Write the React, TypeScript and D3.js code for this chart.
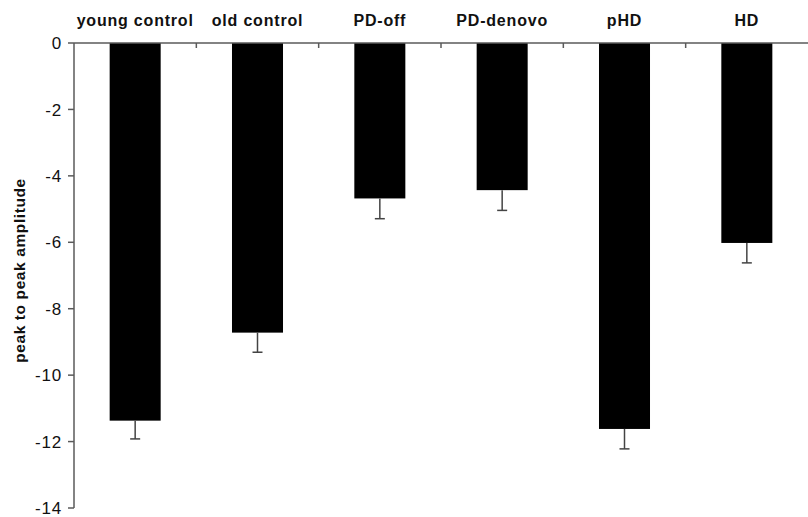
import React from "react";
import * as d3 from "d3";

const categories = ["young control", "old control", "PD-off", "PD-denovo", "pHD", "HD"];
const means = [-11.37, -8.72, -4.68, -4.43, -11.62, -6.02];
const errors = [0.55, 0.59, 0.61, 0.61, 0.6, 0.6];
const yTicks = [0, -2, -4, -6, -8, -10, -12, -14];
const yLabel = "peak to peak amplitude";

const W = 808;
const H = 517;
const margin = { left: 74, top: 43, right: 0, bottom: 9 };

export default function App() {
  const x = d3
    .scaleBand<string>()
    .domain(categories)
    .range([margin.left, W - margin.right])
    .paddingInner(0.583)
    .paddingOuter(0.2915);
  const y = d3.scaleLinear().domain([0, -14]).range([margin.top, H - margin.bottom]);
  const step = x.step();
  const boundaries = categories.slice(1).map((c) => (x(c) as number) - x.paddingInner() * step / 2);
  const axisColor = "#5a5a5a";
  const font = "'Liberation Sans', Arial, Helvetica, sans-serif";

  return (
    <svg width={W} height={H} style={{ position: "absolute", left: 0, top: 0, background: "#fff" }}>
      <rect x={0} y={0} width={W} height={H} fill="#fff" />
      {/* bars */}
      {categories.map((c, i) => (
        <rect
          key={c}
          x={x(c)}
          y={y(0)}
          width={x.bandwidth()}
          height={y(means[i]) - y(0)}
          fill="#000"
        />
      ))}
      {/* error bars */}
      {categories.map((c, i) => {
        const cx = (x(c) as number) + x.bandwidth() / 2;
        const y0 = y(means[i]);
        const y1 = y(means[i] - errors[i]);
        return (
          <g key={c + "e"} stroke="#444" strokeWidth={1.5}>
            <line x1={cx} x2={cx} y1={y0} y2={y1} />
            <line x1={cx - 5} x2={cx + 5} y1={y1} y2={y1} />
          </g>
        );
      })}
      {/* top x axis */}
      <line x1={margin.left} x2={W} y1={y(0)} y2={y(0)} stroke={axisColor} strokeWidth={1.5} />
      {boundaries.map((bx, i) => (
        <line key={i} x1={bx} x2={bx} y1={y(0)} y2={y(0) + 5} stroke={axisColor} strokeWidth={1.5} />
      ))}
      {/* category labels */}
      {categories.map((c) => (
        <text
          key={c + "l"}
          x={(x(c) as number) + x.bandwidth() / 2}
          y={26}
          textAnchor="middle"
          fontFamily={font}
          fontWeight="bold"
          fontSize={16}
          letterSpacing={0.8}
          fill="#111"
        >
          {c}
        </text>
      ))}
      {/* y axis */}
      <line x1={margin.left} x2={margin.left} y1={y(0)} y2={y(-14)} stroke={axisColor} strokeWidth={1.5} />
      {yTicks.map((t) => (
        <g key={t}>
          <line x1={margin.left - 6} x2={margin.left} y1={y(t)} y2={y(t)} stroke={axisColor} strokeWidth={1.5} />
          <text
            x={margin.left - 12}
            y={y(t)}
            dy="0.36em"
            textAnchor="end"
            fontFamily={font}
            fontSize={17}
            letterSpacing={0.8}
            fill="#111"
          >
            {t}
          </text>
        </g>
      ))}
      <text
        transform={`translate(25,${(y(0) + y(-14)) / 2 - 5}) rotate(-90)`}
        textAnchor="middle"
        fontFamily={font}
        fontWeight="bold"
        fontSize={15.5}
        letterSpacing={0.6}
        fill="#111"
      >
        {yLabel}
      </text>
    </svg>
  );
}
